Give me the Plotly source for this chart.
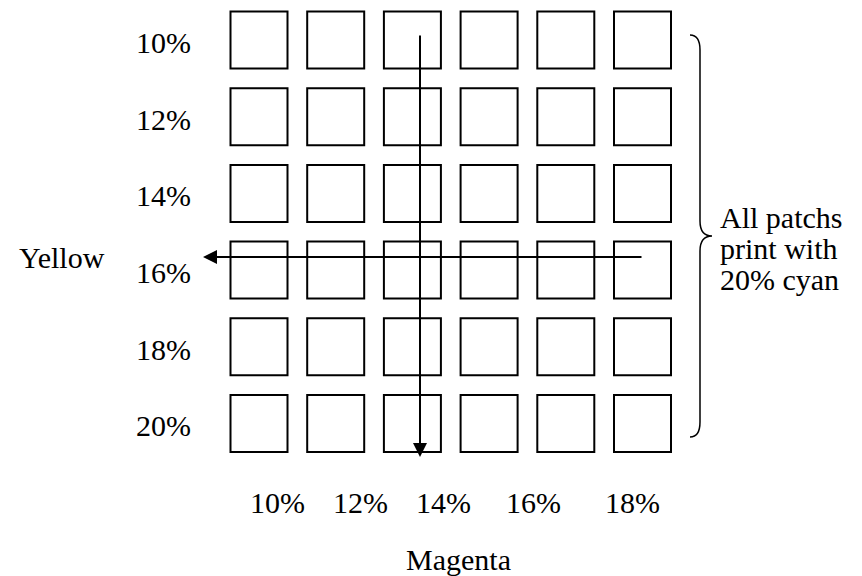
import plotly.graph_objects as go

# patch grid: yellow level per row, 6 magenta steps per row, cyan fixed at 20%
yellow_levels = ["10%", "12%", "14%", "16%", "18%", "20%"]
magenta_labels = ["10%", "12%", "14%", "16%", "18%"]
n_cols = 6
cyan_note = ["All patchs", "print with", "20% cyan"]

# the page body adds an 8px margin, so the figure is drawn 8px smaller
OFF = 8
W, H = 862 - OFF, 576 - OFF
PITCH = 76.7              # px between patch centres
X0, Y0 = 259 - OFF, 40 - OFF   # centre of the top-left patch inside the figure
FONT = "Liberation Serif, Times New Roman, serif"
FS = 30


def px(x):
    return (x - OFF) / W


def py(y):
    return 1 - (y - OFF) / H


cols, rows = [], []
for j, _ in enumerate(yellow_levels):
    for i in range(n_cols):
        cols.append(i)
        rows.append(j)

fig = go.Figure(
    go.Scatter(
        x=cols, y=rows, mode="markers", hoverinfo="skip",
        marker=dict(symbol="square-open", size=57, color="black",
                    line=dict(width=2, color="black"))
    )
)

annotations = []
for j, lab in enumerate(yellow_levels):
    annotations.append(dict(text=lab, xref="paper", yref="y", x=px(163), y=j + 0.03))

mag_x = [277, 360, 443, 533, 632]
for xpos, lab in zip(mag_x, magenta_labels):
    annotations.append(dict(text=lab, xref="paper", yref="paper", x=px(xpos), y=py(502)))

annotations.append(dict(text="Yellow", xref="paper", yref="paper", x=px(62), y=py(258)))
annotations.append(dict(text="Magenta", xref="paper", yref="paper", x=px(458), y=py(559)))
for k, line in enumerate(cyan_note):
    annotations.append(dict(text=line, xref="paper", yref="paper", xanchor="left",
                            x=px(718), y=py(217 + 31 * k)))

for a in annotations:
    a.update(showarrow=False, font=dict(family=FONT, size=FS, color="black"))
    a.setdefault("xanchor", "center")
    a.setdefault("yanchor", "middle")

# arrows: along the yellow row and down the magenta column
annotations.append(dict(x=px(203), y=py(257), xref="paper", yref="paper", text="",
                        showarrow=True, ax=440, ay=0, axref="pixel", ayref="pixel",
                        arrowhead=2, arrowsize=1.4, arrowwidth=2, arrowcolor="black",
                        standoff=0))
annotations.append(dict(x=px(420), y=py(457), xref="paper", yref="paper", text="",
                        showarrow=True, ax=0, ay=-423, axref="pixel", ayref="pixel",
                        arrowhead=2, arrowsize=1.4, arrowwidth=2, arrowcolor="black",
                        standoff=0))

# curly brace on the right
pts = [("M", 690, 35), ("Q", 700, 35, 700, 50), ("L", 700, 221), ("Q", 700, 236, 712, 236),
       ("Q", 700, 236, 700, 251), ("L", 700, 422), ("Q", 700, 437, 690, 437)]
path = ""
for p in pts:
    coords = p[1:]
    s = " ".join(f"{px(coords[k]):.5f},{py(coords[k + 1]):.5f}" for k in range(0, len(coords), 2))
    path += f"{p[0]} {s} "
shapes = [dict(type="path", path=path, xref="paper", yref="paper",
               line=dict(color="black", width=1.5))]

fig.update_layout(
    width=W, height=H,
    margin=dict(l=0, r=0, t=0, b=0),
    paper_bgcolor="white", plot_bgcolor="white",
    showlegend=False,
    xaxis=dict(range=[-X0 / PITCH, (W - X0) / PITCH], visible=False, fixedrange=True),
    yaxis=dict(range=[(H - Y0) / PITCH, -Y0 / PITCH], visible=False, fixedrange=True),
    annotations=annotations,
    shapes=shapes,
)

fig.write_html("out.html")
